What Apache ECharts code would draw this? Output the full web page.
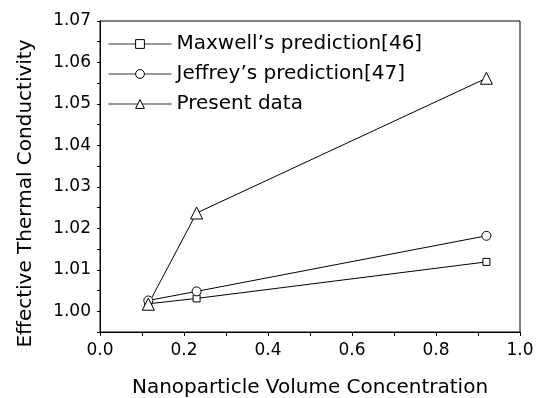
<!DOCTYPE html>
<html>
<head>
<meta charset="utf-8">
<script src="https://cdn.jsdelivr.net/npm/echarts@6/dist/echarts.min.js"></script>
<style>
  html, body { margin: 0; padding: 0; background: #fff; }
  #chart { width: 539px; height: 398px; }
</style>
</head>
<body>
<div id="chart"></div>
<script>
const concentration = [0.115, 0.23, 0.92];
const maxwell = [1.0018, 1.0031, 1.0119];
const jeffrey = [1.0026, 1.0048, 1.0182];
const present = [1.0017, 1.0237, 1.0562];
const seriesNames = ["Maxwell\u2019s prediction[46]", "Jeffrey\u2019s prediction[47]", "Present data"];
const yLabels = [1.00, 1.01, 1.02, 1.03, 1.04, 1.05, 1.06, 1.07];

const font = "DejaVu Sans";
const chart = echarts.init(document.getElementById("chart"));

const pairs = (ys) => concentration.map((x, i) => [x, ys[i]]);

// hollow black markers, thin black lines
const mkSeries = (name, ys, symbol, size) => ({
  name,
  type: "line",
  data: pairs(ys),
  symbol,
  symbolSize: size,
  showSymbol: true,
  lineStyle: { color: "#000", width: 1 },
  itemStyle: { color: "#fff", borderColor: "#000", borderWidth: 1 },
  emphasis: { disabled: true },
  z: 3,
});

chart.setOption({
  animation: false,
  grid: {
    left: 100, right: 19, top: 21, bottom: 66,
    outerBoundsMode: "none",
    show: true, borderColor: "#000", borderWidth: 1,
  },
  legend: {
    orient: "vertical",
    left: 103,
    top: 28,
    itemWidth: 63,
    itemHeight: 11,
    itemGap: 8,
    lineStyle: { width: 1, color: "#333" },
    itemStyle: { borderWidth: 1, color: "#fff", borderColor: "#000" },
    textStyle: { fontFamily: font, fontSize: 20, color: "#000", lineHeight: 22 },
    data: seriesNames,
  },
  xAxis: {
    type: "value",
    min: 0, max: 1, interval: 0.1,
    axisLine: { lineStyle: { color: "#000", width: 1 } },
    axisTick: { show: true, length: 4, lineStyle: { color: "#000" } },
    splitLine: { show: false },
    axisLabel: {
      fontFamily: font, fontSize: 17, color: "#000", margin: 10,
      formatter: (v) => (Math.round(v * 10) % 2 === 0 ? v.toFixed(1) : ""),
    },
    name: "Nanoparticle Volume Concentration",
    nameLocation: "middle",
    nameGap: 46,
    nameTextStyle: { fontFamily: font, fontSize: 20, color: "#000" },
  },
  yAxis: {
    type: "value",
    min: 0.995, max: 1.07, interval: 0.005,
    axisLine: { show: true, lineStyle: { color: "#000", width: 1 } },
    axisTick: { show: true, length: 3, lineStyle: { color: "#000" } },
    splitLine: { show: false },
    axisLabel: {
      fontFamily: font, fontSize: 17, color: "#000", margin: 9,
      customValues: yLabels,
      formatter: (v) => v.toFixed(2),
    },
    name: "Effective Thermal Conductivity",
    nameLocation: "middle",
    nameGap: 64,
    nameTextStyle: { fontFamily: font, fontSize: 20, color: "#000", padding: [0, 34, 0, 0] },
  },
  series: [
    mkSeries(seriesNames[0], maxwell, "rect", 7),
    mkSeries(seriesNames[1], jeffrey, "circle", 9),
    mkSeries(seriesNames[2], present, "triangle", 12),
  ],
});
</script>
</body>
</html>
